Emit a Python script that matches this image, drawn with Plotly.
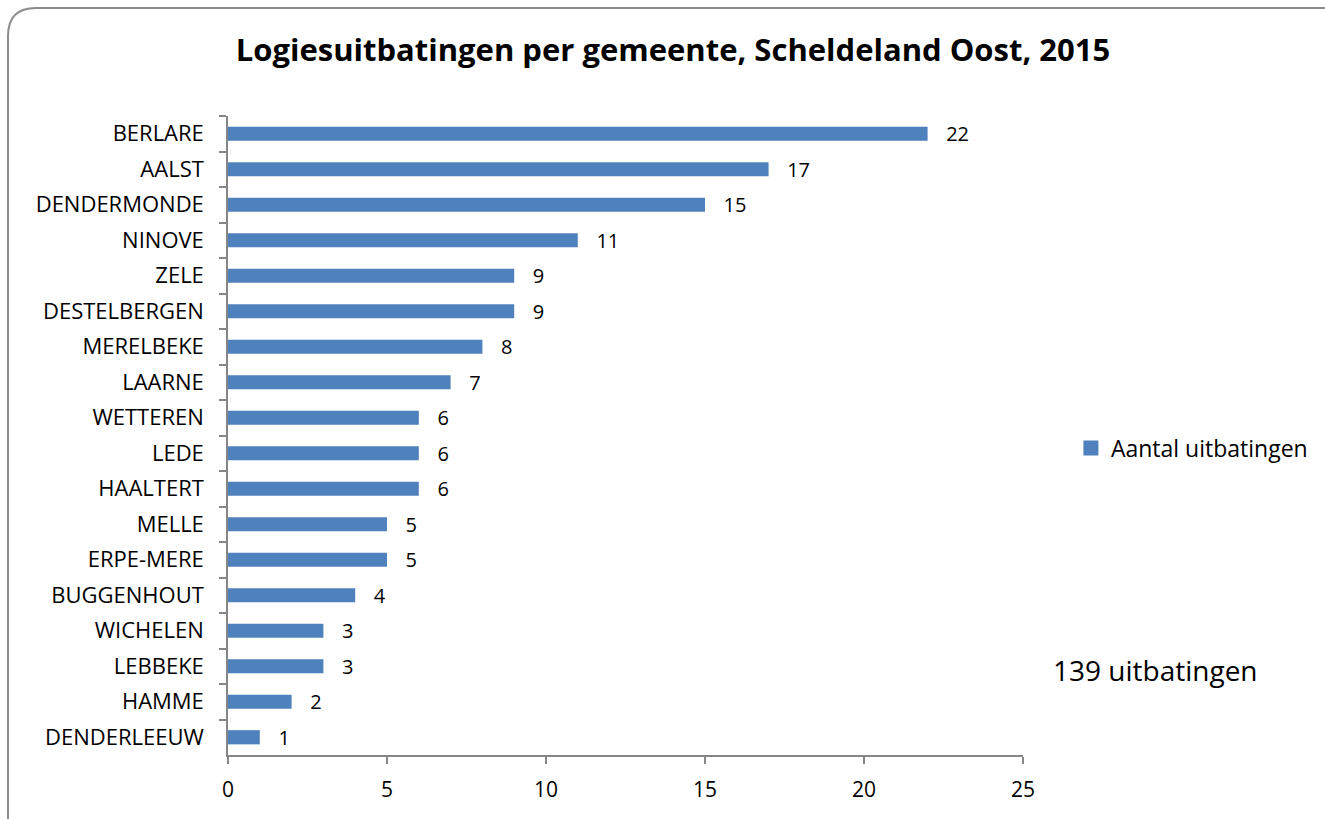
import plotly.graph_objects as go

categories = ["BERLARE", "AALST", "DENDERMONDE", "NINOVE", "ZELE", "DESTELBERGEN",
              "MERELBEKE", "LAARNE", "WETTEREN", "LEDE", "HAALTERT", "MELLE",
              "ERPE-MERE", "BUGGENHOUT", "WICHELEN", "LEBBEKE", "HAMME", "DENDERLEEUW"]
values = [22, 17, 15, 11, 9, 9, 8, 7, 6, 6, 6, 5, 5, 4, 3, 3, 2, 1]
series_name = "Aantal uitbatingen"
title_text = "Logiesuitbatingen per gemeente, Scheldeland Oost, 2015"
note_text = "139 uitbatingen"
x_ticks = [0, 5, 10, 15, 20, 25]

FONT = "Open Sans"
BAR = "#4F81BD"
W, H = 1325, 819
L, R, T, B = 228, 300, 116, 64

fig = go.Figure()
fig.add_trace(go.Bar(
    y=categories, x=values, orientation="h", name=series_name,
    marker=dict(color=BAR, line=dict(width=0)),
    width=0.4,
    text=[str(v) for v in values], texttemplate="   %{text}", textposition="outside",
    constraintext="none",
    textfont=dict(family=FONT, size=20, color="#000000"),
    cliponaxis=False, showlegend=False,
))
# legend entry with a larger square swatch
fig.add_trace(go.Scatter(
    x=[None], y=[None], mode="markers", name=series_name,
    marker=dict(symbol="square", size=15, color=BAR), showlegend=True,
))

# rounded frame in pixel coordinates relative to plot origin (bottom-left)
fx0, fx1 = 8 - L, 1335 - L
fy_top, fy_bot = (H - B) - 8, (H - B) - 825
r = 28
path = (f"M {fx0+r},{fy_top} L {fx1},{fy_top} L {fx1},{fy_bot} L {fx0},{fy_bot} "
        f"L {fx0},{fy_top-r} Q {fx0},{fy_top} {fx0+r},{fy_top} Z")
fig.add_shape(type="path", xref="paper", yref="paper", xsizemode="pixel", ysizemode="pixel",
              xanchor=0, yanchor=0, path=path, line=dict(color="#8c8c8c", width=2),
              fillcolor="rgba(0,0,0,0)", layer="below")

fig.add_annotation(text=note_text, xref="paper", yref="paper",
                   x=(1158 - L) / (W - L - R), y=(H - B - 670) / (H - T - B),
                   showarrow=False, font=dict(family=FONT, size=28, color="#000000"),
                   xanchor="center", yanchor="middle")

fig.update_layout(
    width=W, height=H,
    margin=dict(l=L, r=R, t=T, b=B, pad=0),
    paper_bgcolor="white", plot_bgcolor="white",
    title=dict(text=f"<b>{title_text}</b>", x=673 / W, xanchor="center",
               y=1 - 50 / H, yanchor="middle",
               font=dict(family=FONT, size=31, color="#000000")),
    font=dict(family=FONT, color="#000000"),
    bargap=0.6,
    legend=dict(x=(1073 - L) / (W - L - R), y=(H - B - 448) / (H - T - B),
                xanchor="left", yanchor="middle",
                font=dict(family=FONT, size=23, color="#000000"),
                itemwidth=30, bgcolor="rgba(0,0,0,0)"),
    xaxis=dict(range=[0, 25], tickvals=x_ticks, showgrid=False, zeroline=False,
               showline=True, linecolor="#868686", linewidth=1.5,
               ticks="outside", ticklen=7, tickcolor="#868686", tickwidth=1.5,
               ticklabelstandoff=8,
               tickfont=dict(family=FONT, size=21, color="#000000"), fixedrange=True),
    yaxis=dict(autorange="reversed", type="category", showgrid=False,
               showline=True, linecolor="#868686", linewidth=1.5,
               ticks="outside", ticklen=7, tickcolor="#868686", tickwidth=1.5,
               tickson="boundaries", ticklabelstandoff=18,
               tickfont=dict(family=FONT, size=22, color="#000000")),
)

fig.write_html("out.html", config={"displayModeBar": False},
               post_script="document.body.style.margin='0';")
